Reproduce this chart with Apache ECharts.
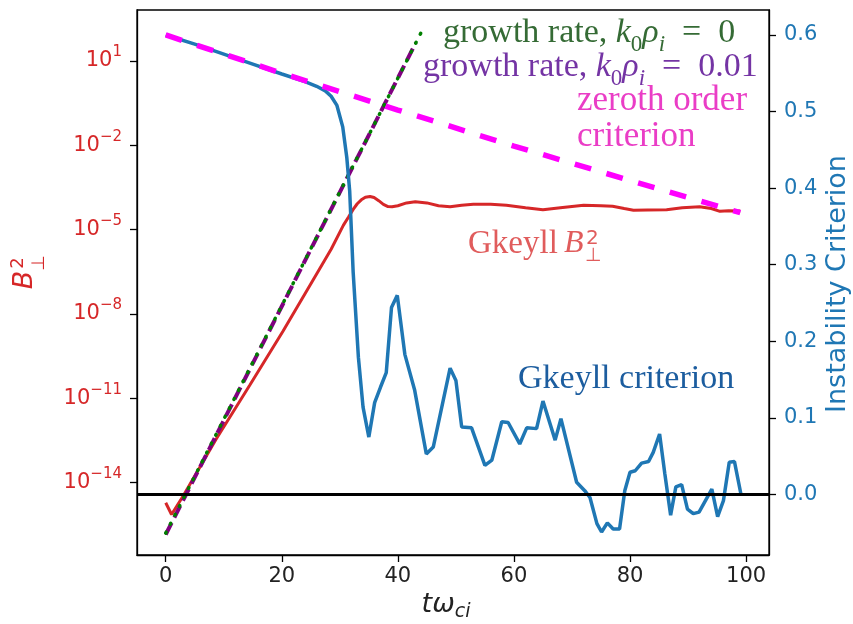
<!DOCTYPE html>
<html><head><meta charset="utf-8">
<script src="https://cdn.jsdelivr.net/npm/echarts@6/dist/echarts.min.js"></script>
<style>html,body{margin:0;padding:0;background:#fff}#c{width:853px;height:624px}</style>
</head><body><div id="c"></div>
<script>
// ---- data ----
const xTicks = [0, 20, 40, 60, 80, 100];
const leftExpTicks = [-14, -11, -8, -5, -2, 1];          // log10 of B_perp^2 tick values
const rightTicks = [0, 0.1, 0.2, 0.3, 0.4, 0.5, 0.6];

// Gkeyll instability criterion (right axis)
const critT = [0,5,10,15,20,24,26,27.5,28.5,29.5,30.5,31.2,31.7,32.3,33.2,34,35,36,37,38,38.9,39.9,41.2,42.9,44.9,46.1,49,50,51,52.7,55,56.2,57.9,59,61,62.2,63.9,65,67.1,68.1,70.8,72.2,73.1,74.3,75.1,76.1,77.1,78.2,79.1,80,80.9,82,83.2,84,85.1,86,87,87.9,88.9,89.9,90.9,91.9,94.1,95.1,96.1,97.1,98,99.1];
const critV = [0.600,0.588,0.575,0.562,0.549,0.539,0.533,0.527,0.520,0.508,0.480,0.440,0.396,0.290,0.179,0.114,0.075,0.120,0.140,0.159,0.244,0.260,0.183,0.136,0.053,0.062,0.165,0.149,0.088,0.087,0.038,0.045,0.095,0.094,0.066,0.087,0.086,0.122,0.071,0.099,0.016,0.005,-0.004,-0.038,-0.049,-0.037,-0.045,-0.045,0.005,0.029,0.031,0.041,0.043,0.055,0.079,0.027,-0.027,0.010,0.013,-0.019,-0.025,-0.023,0.007,-0.029,-0.008,0.042,0.043,0.001];

// zeroth order criterion (right axis)
const zerothT = [0, 20, 40, 60, 80, 99];
const zerothV = [0.600, 0.550, 0.502, 0.455, 0.410, 0.368];

// Gkeyll B_perp^2 as log10 exponents (left axis)
const b2T   = [0,1,3,8.7,14.5,20.2,26,28.5,30.6,31.5,32.3,33,33.7,34.4,35.2,35.9,36.7,37.5,38.3,39,40,41.5,43,45,47,49,51,53,56,58.7,62,65,68,72,75,77,79,80.6,83,86.3,89,92,94,95.5,97,99];
const b2Exp = [-14.72,-15.14,-14.48,-12.45,-10.53,-8.62,-6.58,-5.70,-4.85,-4.55,-4.28,-4.08,-3.94,-3.85,-3.82,-3.86,-3.97,-4.10,-4.18,-4.19,-4.15,-4.05,-4.01,-4.05,-4.15,-4.19,-4.13,-4.10,-4.10,-4.13,-4.22,-4.29,-4.22,-4.13,-4.15,-4.17,-4.25,-4.31,-4.30,-4.29,-4.22,-4.19,-4.25,-4.35,-4.33,-4.34];

// growth-rate lines as log10 exponents (left axis)
const growth0T = [0, 44.1];
const growth0Exp = [-15.8, 2.05];
const growth01T = [0, 43.1];
const growth01Exp = [-15.85, 1.65];

function pairs(a, b) { return a.map((v, i) => [v, b[i]]); }

const RED = '#d62728', BLUE = '#1f77b4';
const serif = 'Liberation Serif', sans = 'DejaVu Sans';
const TXT_GREEN = '#356b35', TXT_PURPLE = '#7434a4', TXT_MAG = '#ea3dc6', TXT_RED = '#e05c5c', TXT_BLUE = '#1c5d9f';

function supMinus(n) { return (n < 0 ? '\u2212' : '') + Math.abs(n); }

const axisLineStyle = { color: '#000', width: 1.3 };

function mathRich(color) {
  return {
    n: { fontSize: 34, fontFamily: serif, fill: color, color: color },
    m: { fontSize: 34, fontFamily: serif, fontStyle: 'italic', fill: color, color: color },
    s: { fontSize: 23, fontFamily: serif, fill: color, color: color, padding: [24, 0, 0, 0] },
    si: { fontSize: 23, fontFamily: serif, fontStyle: 'italic', fill: color, color: color, padding: [24, 0, 0, 0] }
  };
}

const chart = echarts.init(document.getElementById('c'), null, { renderer: 'canvas' });
chart.setOption({
  animation: false,
  backgroundColor: '#fff',
  grid: { left: 137, right: 84, top: 10, bottom: 69, show: true, borderColor: '#000', borderWidth: 1.3, backgroundColor: 'transparent' },
  xAxis: {
    type: 'value', min: -4.95, max: 103.95,
    axisLine: { show: true, onZero: false, lineStyle: axisLineStyle },
    axisTick: { show: true, length: 7, customValues: xTicks, lineStyle: axisLineStyle },
    axisLabel: { customValues: xTicks, color: '#222', fontSize: 21, fontFamily: sans, margin: 11 },
    splitLine: { show: false }
  },
  yAxis: [
    {
      type: 'value', position: 'left', min: -16.58, max: 2.815,
      axisLine: { show: true, onZero: false, lineStyle: axisLineStyle },
      axisTick: { show: true, length: 7, customValues: leftExpTicks, lineStyle: axisLineStyle },
      axisLabel: {
        customValues: leftExpTicks, margin: 15,
        formatter: v => '{b|10}{s|' + supMinus(Math.round(v)) + '}',
        rich: {
          b: { fontSize: 21, fontFamily: sans, color: RED, lineHeight: 32 },
          s: { fontSize: 15, fontFamily: sans, color: RED, verticalAlign: 'top' }
        }
      },
      splitLine: { show: false }
    },
    {
      type: 'value', position: 'right', min: -0.079, max: 0.6326,
      axisLine: { show: true, onZero: false, lineStyle: axisLineStyle },
      axisTick: { show: true, length: 7, customValues: rightTicks, lineStyle: axisLineStyle },
      axisLabel: { customValues: rightTicks, margin: 15, color: BLUE, fontSize: 21, fontFamily: sans, formatter: v => v.toFixed(1) },
      splitLine: { show: false }
    }
  ],
  series: [
    { name: 'Gkeyll B', type: 'line', yAxisIndex: 0, data: pairs(b2T, b2Exp), symbol: 'none', lineStyle: { color: RED, width: 3 } },
    { name: 'growth 0.01', type: 'line', yAxisIndex: 0, data: pairs(growth01T, growth01Exp), symbol: 'none', lineStyle: { color: '#800080', width: 4, type: [13, 6] } },
    { name: 'growth 0', type: 'line', yAxisIndex: 0, data: pairs(growth0T, growth0Exp), symbol: 'none', lineStyle: { color: '#008000', width: 3.5, type: [1, 9], cap: 'round' } },
    { name: 'criterion', type: 'line', yAxisIndex: 1, data: pairs(critT, critV), symbol: 'none', lineStyle: { color: BLUE, width: 3.5 },
      markLine: { silent: true, symbol: ['none', 'none'], label: { show: false }, lineStyle: { color: '#000', width: 3, type: 'solid' }, emphasis: { disabled: true }, data: [{ yAxis: 0 }] } },
    { name: 'zeroth', type: 'line', yAxisIndex: 1, data: pairs(zerothT, zerothV), symbol: 'none', lineStyle: { color: '#ff00ff', width: 5.5, type: [17, 16] } }
  ],
  graphic: [
    { type: 'text', x: 443, y: 33, style: { text: '{n|growth rate, }{m|k}{s|0}{m|ρ}{si|i}{n|  =  0}', textAlign: 'left', textVerticalAlign: 'middle', rich: mathRich(TXT_GREEN) } },
    { type: 'text', x: 423, y: 67, style: { text: '{n|growth rate, }{m|k}{s|0}{m|ρ}{si|i}{n|  =  0.01}', textAlign: 'left', textVerticalAlign: 'middle', rich: mathRich(TXT_PURPLE) } },
    { type: 'text', x: 577, y: 101, style: { text: 'zeroth order', font: '35px "Liberation Serif"', fill: TXT_MAG, textAlign: 'left', textVerticalAlign: 'middle' } },
    { type: 'text', x: 577, y: 137, style: { text: 'criterion', font: '35px "Liberation Serif"', fill: TXT_MAG, textAlign: 'left', textVerticalAlign: 'middle' } },
    { type: 'text', x: 468, y: 244, style: { text: 'Gkeyll ', font: '33px "Liberation Serif"', fill: TXT_RED, textAlign: 'left', textVerticalAlign: 'middle' } },
    { type: 'text', x: 564, y: 244, style: { text: 'B', font: 'italic 32px "Liberation Serif"', fill: TXT_RED, textAlign: 'left', textVerticalAlign: 'middle' } },
    { type: 'text', x: 586, y: 239, style: { text: '2', font: '20px "DejaVu Sans"', fill: TXT_RED, textAlign: 'left', textVerticalAlign: 'middle' } },
    { type: 'text', x: 585, y: 256, style: { text: '\u22A5', font: '19px "DejaVu Sans"', fill: TXT_RED, textAlign: 'left', textVerticalAlign: 'middle' } },
    { type: 'text', x: 518, y: 379, style: { text: 'Gkeyll criterion', font: '34px "Liberation Serif"', fill: TXT_BLUE, textAlign: 'left', textVerticalAlign: 'middle' } },
    // axis names
    { type: 'text', x: 838, y: 284, rotation: Math.PI / 2, style: { text: 'Instability Criterion', font: '27px "DejaVu Sans"', fill: BLUE, textAlign: 'center', textVerticalAlign: 'middle' } },
    { type: 'group', x: 28, y: 266, rotation: Math.PI / 2, children: [
      { type: 'text', x: -14, y: -3, style: { text: 'B', font: 'italic 27px "DejaVu Sans"', fill: RED, textAlign: 'center', textVerticalAlign: 'middle' } },
      { type: 'text', x: 3, y: -10, style: { text: '2', font: '18px "DejaVu Sans"', fill: RED, textAlign: 'center', textVerticalAlign: 'middle' } },
      { type: 'text', x: 3, y: 11, style: { text: '\u22A5', font: '18px "DejaVu Sans"', fill: RED, textAlign: 'center', textVerticalAlign: 'middle' } }
    ] },
    { type: 'text', x: 446, y: 605, style: { text: '{i|tω}{s|ci}', textAlign: 'center', textVerticalAlign: 'middle',
      rich: { i: { fontSize: 27, fontFamily: sans, fontStyle: 'italic', fill: '#222' }, s: { fontSize: 19, fontFamily: sans, fontStyle: 'italic', fill: '#222', padding: [14, 0, 0, 0] } } } }
  ]
});
</script>
</body></html>
